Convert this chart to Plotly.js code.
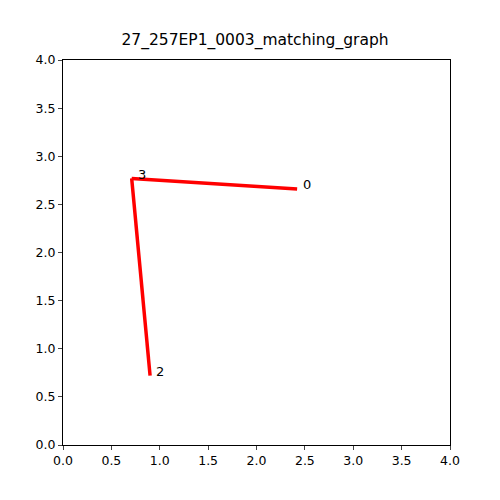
<!DOCTYPE html>
<html><head><script src="https://cdn.plot.ly/plotly-3.0.1.min.js"></script></head>
<body style="margin:0">
<div id="g" style="width:500px;height:500px"></div>
<script>
const nodeIds = ["0", "3", "2"];
const nodeX = [2.42, 0.71, 0.90];
const nodeY = [2.66, 2.77, 0.72];
const edges = [[0, 1], [1, 2]];

const lx = [], ly = [];
edges.forEach(e => { lx.push(nodeX[e[0]], nodeX[e[1]], null); ly.push(nodeY[e[0]], nodeY[e[1]], null); });

const traces = [
  {x: lx, y: ly, mode: 'lines', line: {color: 'red', width: 3.5}, hoverinfo: 'skip'}
];
const annotations = nodeIds.map((t, i) => ({x: nodeX[i], y: nodeY[i], text: t, showarrow: false,
  xanchor: 'left', yanchor: 'middle', xshift: 4, yshift: 4,
  font: {family: 'DejaVu Sans', size: 13, color: 'black'}}));
const ax = {range: [0, 4], dtick: 0.5, tickformat: '.1f', showgrid: false, zeroline: false,
  showline: true, mirror: true, linecolor: 'black', linewidth: 1, ticks: 'outside', ticklen: 4,
  tickfont: {family: 'DejaVu Sans', size: 12.5, color: 'black'}};
Plotly.newPlot('g', traces, {
  width: 500, height: 500, showlegend: false, annotations: annotations,
  margin: {l: 63, r: 50, t: 60, b: 55},
  title: {text: '27_257EP1_0003_matching_graph', x: 0.51, xanchor: 'center', y: 0.91, yanchor: 'bottom',
    font: {family: 'DejaVu Sans', size: 15.5, color: 'black'}},
  xaxis: Object.assign({}, ax), yaxis: Object.assign({}, ax),
  plot_bgcolor: 'white', paper_bgcolor: 'white'
}, {displayModeBar: false});
</script></body></html>
